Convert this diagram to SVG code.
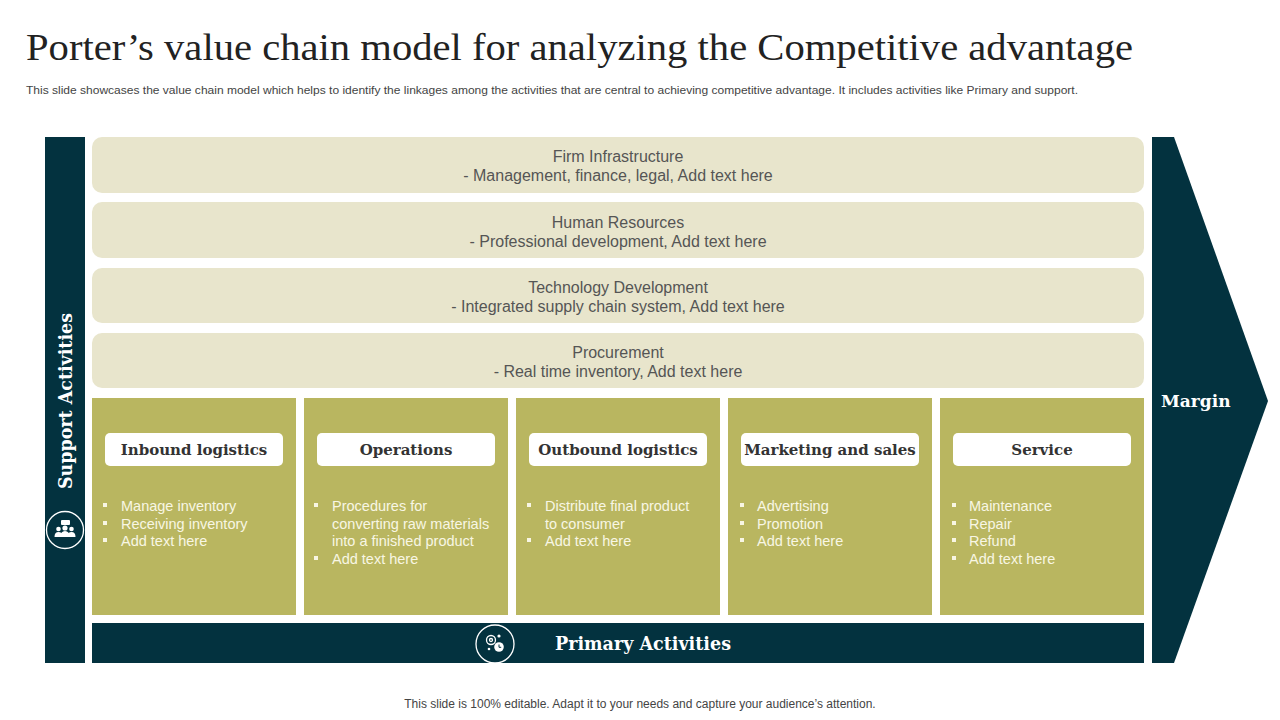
<svg xmlns="http://www.w3.org/2000/svg" width="1280" height="720" viewBox="0 0 1280 720">
<style>
.dark{fill:#03323f}
.sup{fill:#e8e5cc}
.col{fill:#b9b660}
.hdr{fill:#ffffff}
.title{font-family:"Liberation Serif","DejaVu Serif",serif;font-size:37px;fill:#222}
.sub{font-family:"Liberation Sans",Arial,sans-serif;font-size:11px;fill:#444}
.foot{font-family:"Liberation Sans",Arial,sans-serif;font-size:12px;fill:#444}
.st{font-family:"Liberation Sans",Arial,sans-serif;font-size:16px;fill:#555;text-anchor:middle}
.ht{font-family:"DejaVu Serif","Liberation Serif",serif;font-size:15px;font-weight:bold;fill:#333;text-anchor:middle}
.bt{font-family:"Liberation Sans",Arial,sans-serif;font-size:14.5px;fill:#f8f6e4}
.bl{fill:#f8f6e4}
.wt{font-family:"DejaVu Serif","Liberation Serif",serif;font-weight:bold;fill:#ffffff}
.ic{fill:none;stroke:#ffffff;stroke-width:1.3}
.icf{fill:#ffffff}
</style>
<rect width="1280" height="720" fill="#ffffff"/>
<text class="title" x="26" y="60" textLength="1107" lengthAdjust="spacingAndGlyphs">Porter’s value chain model for analyzing the Competitive advantage</text>
<text class="sub" x="26" y="94" textLength="1052" lengthAdjust="spacingAndGlyphs">This slide showcases the value chain model which helps to identify the linkages among the activities that are central to  achieving competitive advantage. It includes activities like Primary and support.</text>

<g id="support-bar">
<rect class="dark" x="45" y="137" width="40" height="526"/>
<text class="wt" font-size="18" text-anchor="middle" transform="translate(72,401) rotate(-90)" textLength="176" lengthAdjust="spacingAndGlyphs">Support Activities</text>
<circle class="ic" cx="65" cy="530" r="18.5"/>
<g>
<rect class="icf" x="61" y="520" width="9" height="5" rx="1"/>
<circle class="icf" cx="58.5" cy="529" r="2.3"/>
<circle class="icf" cx="65" cy="528" r="2.6"/>
<circle class="icf" cx="71.5" cy="529" r="2.3"/>
<path class="icf" d="M54.5 537 q0-5 4-5 q4 0 4 5z M60.5 537 q0-6 4.5-6 q4.5 0 4.5 6z M67.5 537 q0-5 4-5 q4 0 4 5z"/>
</g>
</g>

<g id="firm-infrastructure">
<rect class="sup" x="92" y="137" width="1052" height="56" rx="10"/>
<text class="st" x="618" y="162">Firm Infrastructure</text>
<text class="st" x="618" y="181">- Management,  finance,  legal,  Add text  here</text>
</g>
<g id="human-resources">
<rect class="sup" x="92" y="202" width="1052" height="56" rx="10"/>
<text class="st" x="618" y="228">Human  Resources</text>
<text class="st" x="618" y="247">- Professional  development,  Add text  here</text>
</g>
<g id="technology-development">
<rect class="sup" x="92" y="268" width="1052" height="55" rx="10"/>
<text class="st" x="618" y="293">Technology  Development</text>
<text class="st" x="618" y="312">- Integrated  supply  chain  system,  Add text  here</text>
</g>
<g id="procurement">
<rect class="sup" x="92" y="333" width="1052" height="55" rx="10"/>
<text class="st" x="618" y="358">Procurement</text>
<text class="st" x="618" y="377">- Real time  inventory,  Add text here</text>
</g>

<g id="inbound-logistics">
<rect class="col" x="92" y="398" width="204" height="217"/>
<rect class="hdr" x="105" y="433" width="178" height="33" rx="5"/>
<text class="ht" x="194" y="455">Inbound logistics</text>
<rect class="bl" x="103" y="503" width="4" height="4"/>
<rect class="bl" x="103" y="521" width="4" height="4"/>
<rect class="bl" x="103" y="538" width="4" height="4"/>
<text class="bt" x="121" y="511">Manage inventory</text>
<text class="bt" x="121" y="529">Receiving inventory</text>
<text class="bt" x="121" y="546">Add text here</text>
</g>
<g id="operations">
<rect class="col" x="304" y="398" width="204" height="217"/>
<rect class="hdr" x="317" y="433" width="178" height="33" rx="5"/>
<text class="ht" x="406" y="455">Operations</text>
<rect class="bl" x="314" y="503" width="4" height="4"/>
<rect class="bl" x="314" y="556" width="4" height="4"/>
<text class="bt" x="332" y="511">Procedures for</text>
<text class="bt" x="332" y="529">converting raw materials</text>
<text class="bt" x="332" y="546">into a finished product</text>
<text class="bt" x="332" y="564">Add text here</text>
</g>
<g id="outbound-logistics">
<rect class="col" x="516" y="398" width="204" height="217"/>
<rect class="hdr" x="529" y="433" width="178" height="33" rx="5"/>
<text class="ht" x="618" y="455">Outbound logistics</text>
<rect class="bl" x="527" y="503" width="4" height="4"/>
<rect class="bl" x="527" y="538" width="4" height="4"/>
<text class="bt" x="545" y="511">Distribute final product</text>
<text class="bt" x="545" y="529">to consumer</text>
<text class="bt" x="545" y="546">Add text here</text>
</g>
<g id="marketing-and-sales">
<rect class="col" x="728" y="398" width="204" height="217"/>
<rect class="hdr" x="741" y="433" width="178" height="33" rx="5"/>
<text class="ht" x="830" y="455">Marketing and sales</text>
<rect class="bl" x="740" y="503" width="4" height="4"/>
<rect class="bl" x="740" y="521" width="4" height="4"/>
<rect class="bl" x="740" y="538" width="4" height="4"/>
<text class="bt" x="757" y="511">Advertising</text>
<text class="bt" x="757" y="529">Promotion</text>
<text class="bt" x="757" y="546">Add text here</text>
</g>
<g id="service">
<rect class="col" x="940" y="398" width="204" height="217"/>
<rect class="hdr" x="953" y="433" width="178" height="33" rx="5"/>
<text class="ht" x="1042" y="455">Service</text>
<rect class="bl" x="952" y="503" width="4" height="4"/>
<rect class="bl" x="952" y="521" width="4" height="4"/>
<rect class="bl" x="952" y="538" width="4" height="4"/>
<rect class="bl" x="952" y="556" width="4" height="4"/>
<text class="bt" x="969" y="511">Maintenance</text>
<text class="bt" x="969" y="529">Repair</text>
<text class="bt" x="969" y="546">Refund</text>
<text class="bt" x="969" y="564">Add text here</text>
</g>

<g id="primary-bar">
<rect class="dark" x="92" y="623" width="1052" height="40"/>
<text class="wt" font-size="18" x="643" y="650" text-anchor="middle" textLength="176" lengthAdjust="spacingAndGlyphs">Primary Activities</text>
<circle class="ic" cx="495" cy="644" r="19"/>
<g>
<circle class="ic" cx="491" cy="640" r="4.5"/>
<circle class="ic" cx="491" cy="640" r="1.5"/>
<circle class="icf" cx="499" cy="636" r="1.6"/>
<circle class="icf" cx="489" cy="649" r="1.3"/>
<circle class="icf" cx="499" cy="647" r="4.8"/>
<path d="M499 644.5 v2.8 h2.2" fill="none" stroke="#03323f" stroke-width="1"/>
</g>
</g>

<g id="margin">
<polygon class="dark" points="1152,137 1174,137 1268,401 1174,663 1152,663"/>
<text class="wt" font-size="17" x="1161" y="407">Margin</text>
</g>

<g id="connectors"></g>

<text class="foot" x="640" y="708" text-anchor="middle">This slide is 100% editable. Adapt it to your needs and capture your audience’s attention.</text>
</svg>
